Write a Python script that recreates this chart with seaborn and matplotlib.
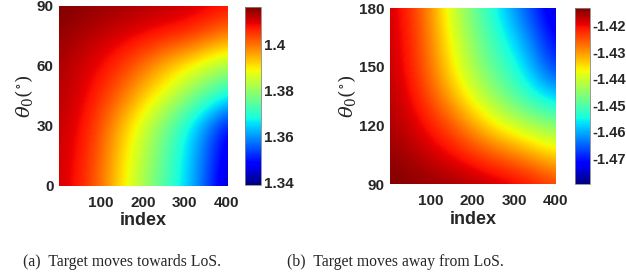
import numpy as np
import pandas as pd
import seaborn as sns
import matplotlib.pyplot as plt

# values, rows = theta_0, columns = index
index_vals = [1, 50, 100, 150, 200, 250, 300, 350, 400]

theta_a = [0, 15, 30, 45, 60, 75, 90]
vals_a = [
    [1.4111, 1.4072, 1.4002, 1.3902, 1.3816, 1.3731, 1.3654, 1.3545, 1.3429],
    [1.4111, 1.4080, 1.4010, 1.3917, 1.3832, 1.3747, 1.3661, 1.3561, 1.3452],
    [1.4119, 1.4088, 1.4026, 1.3940, 1.3855, 1.3770, 1.3685, 1.3584, 1.3483],
    [1.4126, 1.4103, 1.4057, 1.4002, 1.3933, 1.3871, 1.3801, 1.3739, 1.3677],
    [1.4134, 1.4111, 1.4088, 1.4049, 1.4002, 1.3948, 1.3902, 1.3855, 1.3816],
    [1.4150, 1.4134, 1.4119, 1.4103, 1.4088, 1.4072, 1.4057, 1.4026, 1.3987],
    [1.4165, 1.4157, 1.4150, 1.4142, 1.4134, 1.4126, 1.4119, 1.4103, 1.4088],
]
ticks_a = [0, 30, 60, 90]
cticks_a = [1.34, 1.36, 1.38, 1.40]
clabels_a = ["1.34", "1.36", "1.38", "1.4"]
crange_a = (1.339, 1.4165)

theta_b = [90, 105, 120, 135, 150, 165, 180]
vals_b = [
    [-1.4133, -1.4140, -1.4146, -1.4153, -1.4160, -1.4173, -1.4186, -1.4206, -1.4233],
    [-1.4146, -1.4160, -1.4179, -1.4199, -1.4226, -1.4253, -1.4279, -1.4312, -1.4345],
    [-1.4160, -1.4179, -1.4213, -1.4253, -1.4306, -1.4359, -1.4399, -1.4432, -1.4458],
    [-1.4166, -1.4199, -1.4253, -1.4319, -1.4385, -1.4445, -1.4498, -1.4545, -1.4585],
    [-1.4173, -1.4213, -1.4279, -1.4359, -1.4432, -1.4492, -1.4538, -1.4611, -1.4684],
    [-1.4176, -1.4219, -1.4289, -1.4379, -1.4455, -1.4518, -1.4578, -1.4648, -1.4721],
    [-1.4179, -1.4226, -1.4299, -1.4399, -1.4478, -1.4545, -1.4618, -1.4684, -1.4757],
]
ticks_b = [90, 120, 150, 180]
cticks_b = [-1.47, -1.46, -1.45, -1.44, -1.43, -1.42]
clabels_b = ["-1.47", "-1.46", "-1.45", "-1.44", "-1.43", "-1.42"]
crange_b = (-1.4797, -1.4133)

captions = ["(a)  Target moves towards LoS.", "(b)  Target moves away from LoS."]

sns.set_style('white')
plt.rcParams['font.family'] = ['Liberation Sans', 'DejaVu Sans']
plt.rcParams['mathtext.fontset'] = 'dejavuserif'

fig = plt.figure(figsize=(6.26, 2.78), dpi=100)

panels = [
    (theta_a, vals_a, ticks_a, cticks_a, clabels_a, crange_a, 11,
     [0.0942, 0.331, 0.2684, 0.6475], [0.3914, 0.3345, 0.0256, 0.640]),
    (theta_b, vals_b, ticks_b, cticks_b, clabels_b, crange_b, 10.5,
     [0.623, 0.338, 0.265, 0.633], [0.9185, 0.338, 0.024, 0.633]),
]

for theta, vals, yt, ct, cl, cr, cfs, pos, cpos in panels:
    df = pd.DataFrame(vals, index=theta, columns=index_vals)
    ax = fig.add_axes(pos)
    cax = fig.add_axes(cpos)
    dx = (df.columns[-1] - df.columns[0]) / (len(df.columns) - 1)
    dy = (df.index[-1] - df.index[0]) / (len(df.index) - 1)
    ext = [df.columns[0] - dx / 2, df.columns[-1] + dx / 2,
           df.index[0] - dy / 2, df.index[-1] + dy / 2]
    ax.imshow(df.values, origin='lower', extent=ext, aspect='auto',
              cmap='jet', vmin=cr[0], vmax=cr[1], interpolation='bicubic')
    ax.set_xlim(1, 400)
    ax.set_ylim(theta[0], theta[-1])
    ax.set_xticks([100, 200, 300, 400])
    ax.set_yticks(yt)
    ax.tick_params(labelsize=11, length=0, colors='#262626')
    ax.tick_params(axis='x', pad=7)
    ax.tick_params(axis='y', pad=4)
    for lab in ax.get_xticklabels() + ax.get_yticklabels():
        lab.set_fontweight('bold')
    ax.set_xlabel('index', fontsize=13, fontweight='bold', color='#262626', labelpad=2)
    ax.set_ylabel(r'$\theta_0(^{\circ})$', fontsize=14, color='#262626', labelpad=1)
    for s in ax.spines.values():
        s.set_visible(False)

    sm = plt.cm.ScalarMappable(cmap='jet', norm=plt.Normalize(cr[0], cr[1]))
    cb = fig.colorbar(sm, cax=cax)
    cb.set_ticks(ct)
    cb.set_ticklabels(cl)
    cb.outline.set_edgecolor('#888888')
    cb.outline.set_linewidth(0.6)
    cax.tick_params(labelsize=cfs, direction='in', length=2, width=0.6,
                    colors='#262626', pad=2)
    for lab in cax.get_yticklabels():
        lab.set_fontweight('bold')

fig.text(0.195, 0.058, captions[0], ha='center', va='center',
         fontsize=11.3, family='Liberation Serif')
fig.text(0.631, 0.058, captions[1], ha='center', va='center',
         fontsize=11.3, family='Liberation Serif')

fig.savefig('out.png', dpi=100)
